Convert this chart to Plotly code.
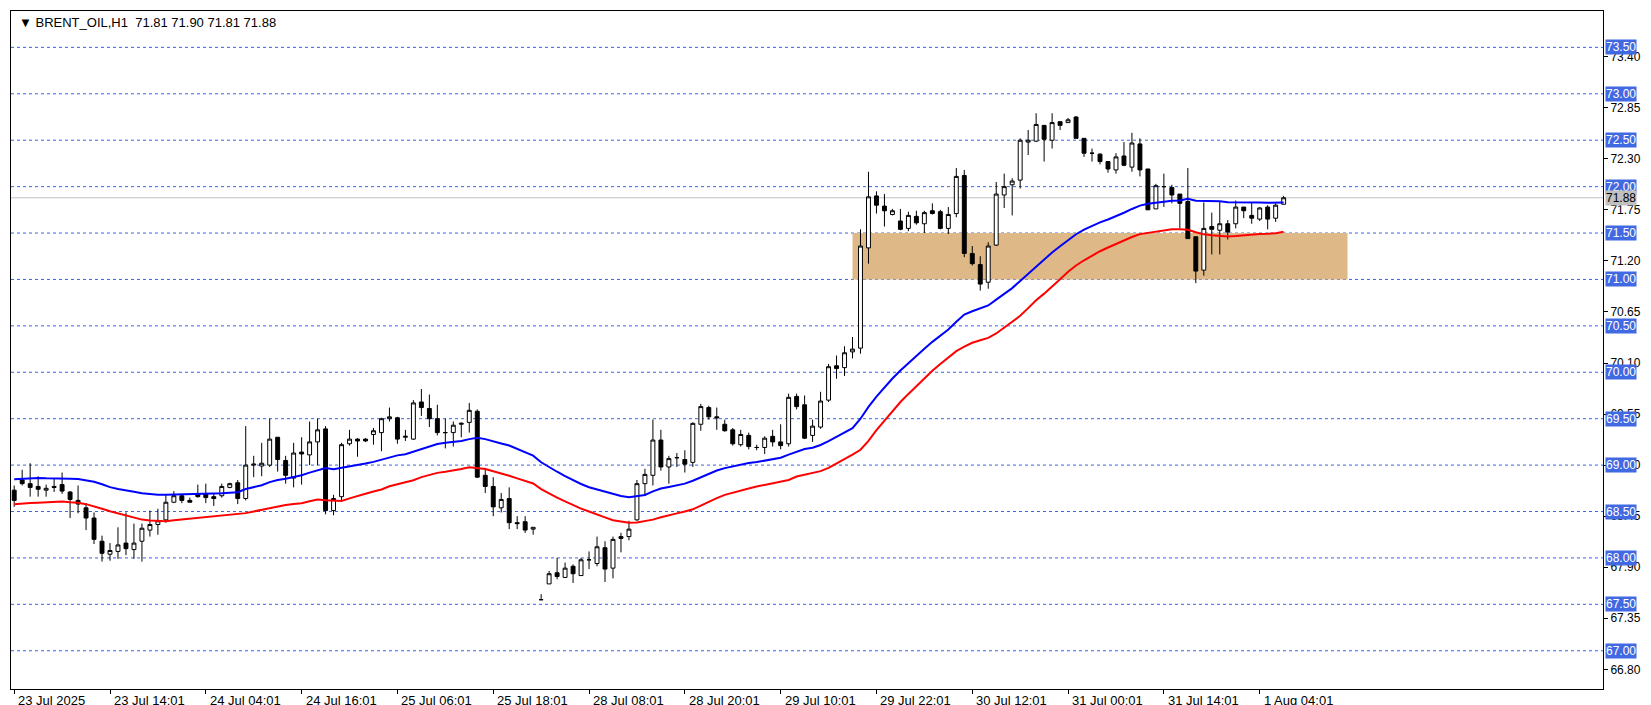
import plotly.graph_objects as go

# hourly bars
opens = [68.73, 68.84, 68.80, 68.77, 68.73, 68.77, 68.79, 68.71, 68.62, 68.54, 68.43, 68.18, 68.04, 68.07, 68.16, 68.09, 68.18, 68.30, 68.36, 68.41,
         68.60, 68.67, 68.62, 68.69, 68.69, 68.66, 68.67, 68.76, 68.81, 68.64, 69.00, 68.99, 69.00, 69.30, 69.05, 68.86, 69.14, 69.11, 69.25, 69.39,
         68.51, 68.66, 69.23, 69.28, 69.28, 69.33, 69.35, 69.50, 69.51, 69.30, 69.28, 69.68, 69.61, 69.50, 69.35, 69.35, 69.44, 69.46, 69.58, 68.89,
         68.77, 68.54, 68.64, 68.38, 68.39, 68.31, 67.55, 67.72, 67.84, 67.79, 67.91, 67.81, 67.98, 67.94, 68.11, 67.89, 68.23, 68.23, 68.41, 68.80,
         68.89, 69.27, 68.98, 69.08, 69.06, 69.03, 69.44, 69.62, 69.52, 69.44, 69.38, 69.22, 69.32, 69.19, 69.19, 69.31, 69.25, 69.23, 69.74, 69.65,
         69.32, 69.41, 69.70, 70.07, 70.05, 70.22, 70.26, 71.34, 71.90, 71.79, 71.70, 71.63, 71.55, 71.68, 71.60, 71.74, 71.73, 71.55, 71.71, 72.12,
         71.28, 71.16, 70.97, 71.37, 71.91, 72.02, 72.07, 72.48, 72.49, 72.66, 72.50, 72.70, 72.69, 72.75, 72.52, 72.36, 72.35, 72.27, 72.18, 72.33,
         72.21, 72.46, 72.19, 71.76, 72.00, 71.99, 71.92, 71.84, 71.46, 71.10, 71.57, 71.53, 71.60, 71.60, 71.78, 71.69, 71.65, 71.78, 71.66, 71.81]
highs = [68.78, 68.95, 69.02, 68.88, 68.79, 68.85, 68.92, 68.72, 68.78, 68.59, 68.49, 68.24, 68.16, 68.33, 68.49, 68.37, 68.37, 68.51, 68.53, 68.68,
         68.72, 68.69, 68.65, 68.79, 68.80, 68.69, 68.80, 68.81, 68.84, 69.42, 69.10, 69.24, 69.50, 69.30, 69.10, 69.24, 69.30, 69.47, 69.50, 69.42,
         68.68, 69.24, 69.38, 69.29, 69.29, 69.40, 69.51, 69.62, 69.52, 69.38, 69.70, 69.82, 69.76, 69.65, 69.50, 69.47, 69.46, 69.67, 69.60, 68.97,
         68.87, 68.70, 68.76, 68.45, 68.45, 68.33, 67.61, 67.86, 68.00, 67.95, 67.93, 68.00, 68.07, 68.23, 68.18, 68.23, 68.27, 68.40, 68.84, 68.96,
         69.49, 69.38, 69.10, 69.13, 69.16, 69.46, 69.66, 69.64, 69.62, 69.49, 69.40, 69.38, 69.35, 69.22, 69.31, 69.38, 69.44, 69.77, 69.77, 69.75,
         69.49, 69.79, 70.09, 70.18, 70.28, 70.38, 71.54, 72.16, 71.95, 71.92, 71.76, 71.76, 71.73, 71.74, 71.74, 71.82, 71.75, 71.78, 72.20, 72.18,
         71.36, 71.25, 71.40, 72.05, 72.14, 72.09, 72.52, 72.61, 72.79, 72.66, 72.79, 72.70, 72.74, 72.76, 72.52, 72.41, 72.36, 72.27, 72.36, 72.48,
         72.58, 72.52, 72.19, 72.03, 72.14, 72.02, 71.92, 72.20, 71.46, 71.83, 71.72, 71.84, 71.64, 71.85, 71.78, 71.83, 71.78, 71.80, 71.82, 71.90]
lows = [68.55, 68.78, 68.66, 68.66, 68.66, 68.71, 68.69, 68.43, 68.48, 68.30, 68.15, 67.96, 67.97, 67.99, 68.03, 67.99, 67.96, 68.23, 68.25, 68.38,
        68.59, 68.59, 68.60, 68.65, 68.59, 68.56, 68.65, 68.75, 68.58, 68.62, 68.87, 68.88, 68.98, 68.93, 68.80, 68.76, 68.79, 69.00, 69.00, 68.47,
        68.46, 68.62, 69.21, 69.09, 69.25, 69.22, 69.15, 69.47, 69.23, 69.26, 69.27, 69.53, 69.41, 69.32, 69.18, 69.20, 69.30, 69.35, 68.86, 68.70,
        68.45, 68.49, 68.31, 68.31, 68.27, 68.25, 67.55, 67.72, 67.77, 67.79, 67.73, 67.81, 67.88, 67.91, 67.74, 67.78, 68.06, 68.19, 68.40, 68.67,
        68.78, 68.94, 68.80, 68.98, 68.92, 68.98, 69.37, 69.49, 69.38, 69.36, 69.21, 69.20, 69.17, 69.16, 69.12, 69.20, 69.17, 69.20, 69.60, 69.28,
        69.25, 69.39, 69.68, 69.93, 69.96, 70.15, 70.20, 71.17, 71.71, 71.57, 71.69, 71.53, 71.52, 71.59, 71.50, 71.70, 71.54, 71.49, 71.67, 71.24,
        71.15, 70.88, 70.90, 71.36, 71.77, 71.69, 71.98, 72.34, 72.48, 72.27, 72.41, 72.61, 72.69, 72.52, 72.32, 72.27, 72.24, 72.15, 72.14, 72.22,
        72.16, 72.11, 71.75, 71.76, 71.78, 71.82, 71.55, 71.44, 70.96, 71.04, 71.27, 71.27, 71.43, 71.55, 71.66, 71.60, 71.63, 71.54, 71.62, 71.81]
closes = [68.62, 68.80, 68.76, 68.74, 68.75, 68.76, 68.72, 68.63, 68.58, 68.43, 68.20, 68.05, 68.08, 68.14, 68.10, 68.16, 68.32, 68.36, 68.40, 68.60,
          68.67, 68.62, 68.60, 68.66, 68.65, 68.64, 68.77, 68.80, 68.64, 69.00, 69.01, 69.02, 69.28, 69.06, 68.89, 69.13, 69.12, 69.25, 69.38, 68.51,
          68.64, 69.22, 69.28, 69.26, 69.26, 69.37, 69.50, 69.52, 69.28, 69.31, 69.67, 69.62, 69.50, 69.35, 69.35, 69.43, 69.45, 69.59, 68.87, 68.77,
          68.55, 68.63, 68.38, 68.37, 68.30, 68.33, 67.55, 67.83, 67.80, 67.89, 67.83, 67.98, 67.98, 68.12, 67.88, 68.20, 68.21, 68.31, 68.80, 68.90,
          69.27, 68.98, 69.07, 69.08, 69.01, 69.45, 69.63, 69.52, 69.51, 69.37, 69.23, 69.33, 69.20, 69.19, 69.29, 69.25, 69.21, 69.73, 69.63, 69.29,
          69.42, 69.69, 70.06, 70.04, 70.21, 70.25, 71.36, 71.89, 71.80, 71.74, 71.74, 71.54, 71.69, 71.61, 71.72, 71.71, 71.55, 71.70, 72.11, 71.28,
          71.17, 70.95, 71.36, 71.92, 72.00, 72.06, 72.50, 72.50, 72.67, 72.51, 72.69, 72.66, 72.72, 72.52, 72.36, 72.36, 72.27, 72.19, 72.32, 72.23,
          72.47, 72.18, 71.75, 72.01, 72.00, 71.91, 71.82, 71.44, 71.09, 71.55, 71.54, 71.60, 71.51, 71.78, 71.74, 71.66, 71.77, 71.65, 71.80, 71.88]

tick_bars = [0, 12, 24, 36, 48, 60, 72, 84, 96, 108, 120, 132, 144, 156]
tick_labels = ["23 Jul 2025", "23 Jul 14:01", "24 Jul 04:01", "24 Jul 16:01", "25 Jul 06:01", "25 Jul 18:01", "28 Jul 08:01",
               "28 Jul 20:01", "29 Jul 10:01", "29 Jul 22:01", "30 Jul 12:01", "31 Jul 00:01", "31 Jul 14:01", "1 Aug 04:01"]
scale_ticks = [66.80, 67.35, 67.90, 68.45, 69.00, 69.55, 70.10, 70.65, 71.20, 71.75, 72.30, 72.85, 73.40]
levels = [67.0, 67.5, 68.0, 68.5, 69.0, 69.5, 70.0, 70.5, 71.0, 71.5, 72.0, 72.5, 73.0, 73.5]
zone_low, zone_high = 71.0, 71.5
zone_start, zone_end = 105, 167
last_price = 71.88


def smma(values, seed, period=21):
    out, prev = [], seed
    for v in values:
        prev = prev + (v - prev) / period
        out.append(prev)
    return out


x = list(range(len(closes)))
fig = go.Figure()
fig.add_trace(go.Candlestick(
    x=x, open=opens, high=highs, low=lows, close=closes,
    increasing=dict(line=dict(color="black", width=1), fillcolor="white"),
    decreasing=dict(line=dict(color="black", width=1), fillcolor="black"),
    whiskerwidth=0, showlegend=False, hoverinfo="skip"))
fig.add_trace(go.Scatter(x=x, y=smma(highs, 68.85), mode="lines", line=dict(color="#0000FF", width=2),
                         showlegend=False, hoverinfo="skip"))
fig.add_trace(go.Scatter(x=x, y=smma(lows, 68.58), mode="lines", line=dict(color="#FF0000", width=2),
                         showlegend=False, hoverinfo="skip"))

shapes = [dict(type="rect", xref="x", yref="y", x0=zone_start, x1=zone_end, y0=zone_low, y1=zone_high,
               fillcolor="#DEB887", line=dict(width=0), layer="below")]
for lv in levels:
    shapes.append(dict(type="line", xref="paper", yref="y", x0=0, x1=1, y0=lv, y1=lv,
                       line=dict(color="#3A66DD", width=1, dash="3px,3px"), layer="below"))
shapes.append(dict(type="line", xref="paper", yref="y", x0=0, x1=1, y0=last_price, y1=last_price,
                   line=dict(color="#C0C0C0", width=1), layer="below"))

font = dict(family="Liberation Sans", size=13, color="black")
axis_font = dict(family="Liberation Sans", size=12, color="black")
annotations = [dict(xref="paper", yref="paper", x=0.004, y=0.997, xanchor="left", yanchor="top", showarrow=False,
                    text="\u25BC BRENT_OIL,H1  71.81 71.90 71.81 71.88", font=font)]
for lv in levels:
    annotations.append(dict(xref="paper", yref="y", x=1, y=lv, xanchor="left", yanchor="middle", xshift=2,
                            showarrow=False, text=f"{lv:.2f}", bgcolor="#4169E1", borderpad=0,
                            font=dict(family="Liberation Sans", size=12, color="white")))
annotations.append(dict(xref="paper", yref="y", x=1, y=last_price, xanchor="left", yanchor="middle", xshift=2,
                        showarrow=False, text=f"{last_price:.2f}", bgcolor="#C0C0C0", borderpad=0, font=axis_font))
for b, t in zip(tick_bars, tick_labels):
    annotations.append(dict(xref="x", yref="paper", x=b, y=0, xanchor="left", yanchor="top", yshift=-2, xshift=2,
                            showarrow=False, text=t, font=font))

fig.update_layout(
    width=1651, height=705, margin=dict(l=3, r=56, t=3, b=24),
    paper_bgcolor="white", plot_bgcolor="white",
    shapes=shapes, annotations=annotations, font=axis_font,
    xaxis=dict(range=[-0.4, 199.0], rangeslider=dict(visible=False), showgrid=False, zeroline=False,
               tickvals=tick_bars, ticktext=[""] * len(tick_bars), ticks="outside", ticklen=4, tickcolor="black",
               showline=True, linecolor="black", mirror=True),
    yaxis=dict(range=[66.588, 73.892], side="right", showgrid=False, zeroline=False,
               tickvals=scale_ticks, ticktext=[f"{v:.2f}" for v in scale_ticks], ticks="outside", ticklen=4,
               tickcolor="black", showline=True, linecolor="black", mirror=True),
)

fig.write_html("out.html")
